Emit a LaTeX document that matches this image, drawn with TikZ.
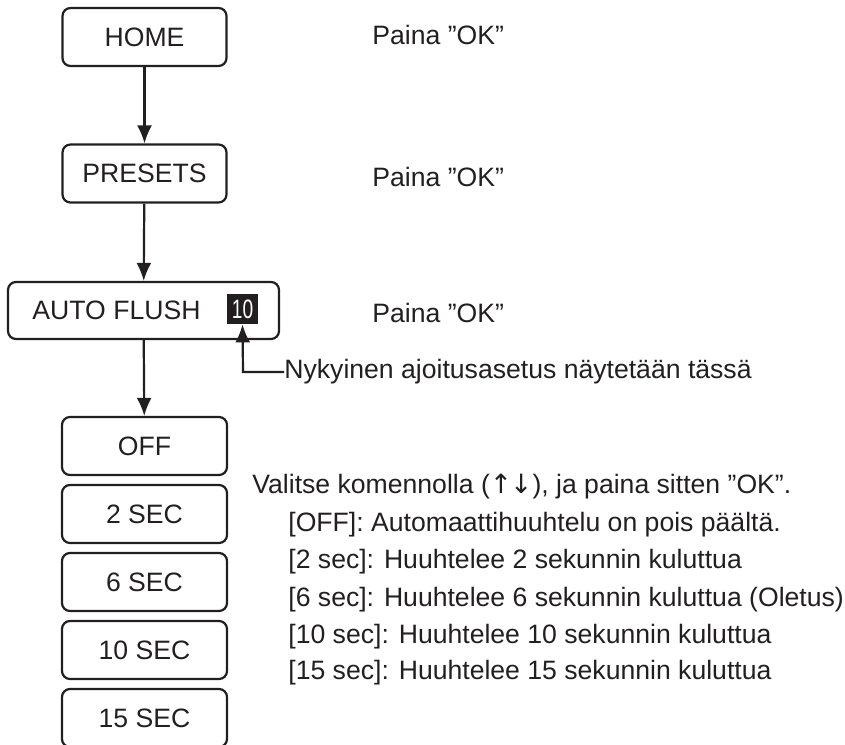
\documentclass[tikz,border=0pt]{standalone}
\usepackage{fontspec}
\setmainfont{Liberation Sans}
\newfontfamily\narrowfont[FakeStretch=0.72]{Liberation Sans}
\newfontfamily\arrowfont{DejaVu Sans}
\usepackage{xcolor}
\usetikzlibrary{arrows.meta,positioning}
\definecolor{inkdark}{HTML}{231F20}

\begin{document}
\begin{tikzpicture}[
        x=0.5pt, y=-0.5pt,
        >={Latex[length=9pt,width=7.5pt]},
        every node/.style={text=inkdark, font=\fontsize{13.3}{16}\selectfont},
        menubox/.style={rectangle,draw=inkdark,line width=1.1pt,rounded corners=4pt,minimum width=82pt,minimum height=29pt,inner sep=0pt},
        optbox/.style={menubox,minimum width=82.5pt},
        badge/.style={rectangle,fill=inkdark,text=white,minimum width=15.5pt,minimum height=15pt,inner sep=0pt,font=\narrowfont\fontsize{13.3}{16}\selectfont},
        hint/.style={anchor=west,inner sep=0pt},
        link/.style={draw=inkdark,line width=1.1pt}
      ]
        \useasboundingbox (0,0) rectangle (845,744);

        \node[menubox] (home)    at (144.5,37)  {HOME};
        \node[menubox] (presets) at (144.5,173.5) {PRESETS};
        \node[menubox,minimum width=135.5pt,minimum height=28.5pt] (autoflush) at (143.5,310.5) {};
        \node (aflabel) at (116.5,310.5) {AUTO FLUSH};
        \node[badge]   (current) at (242.5,309) {10};

        \node[optbox] (off)   at (144.5,446) {OFF};
        \node[optbox] (sec2)  at (144.5,514) {2 SEC};
        \node[optbox] (sec6)  at (144.5,582) {6 SEC};
        \node[optbox] (sec10) at (144.5,650) {10 SEC};
        \node[optbox] (sec15) at (144.5,718) {15 SEC};

        \draw[link,->] (home) -- (presets);
        \draw[link,->] (presets) -- (autoflush);
        \draw[link,->] (autoflush) -- (off);

        % right hand notes
        \node[hint] (ok1) at (372,35)  {Paina ”OK”};
        \node[hint] (ok2) at (372,177) {Paina ”OK”};
        \node[hint] (ok3) at (372,313) {Paina ”OK”};
        \node[hint] (note) at (284,372) {Nykyinen ajoitusasetus näytetään tässä};
        \draw[link,->] (note.west) -- ++(-41,0) -- (current.south);

        \node[hint] (choose) at (252,487) {Valitse komennolla ({\arrowfont ↑\kern-1pt↓}), ja paina sitten ”OK”.};
        \node[hint] (txoff)  at (288,525) {[OFF]: Automaattihuuhtelu on pois päältä.};
        \node[hint] (tx2)    at (288,562) {[2 sec]: Huuhtelee 2 sekunnin kuluttua};
        \node[hint] (tx6)    at (288,600) {[6 sec]: Huuhtelee 6 sekunnin kuluttua (Oletus)};
        \node[hint] (tx10)   at (288,637) {[10 sec]: Huuhtelee 10 sekunnin kuluttua};
        \node[hint] (tx15)   at (288,673) {[15 sec]: Huuhtelee 15 sekunnin kuluttua};
      \end{tikzpicture}
\end{document}
